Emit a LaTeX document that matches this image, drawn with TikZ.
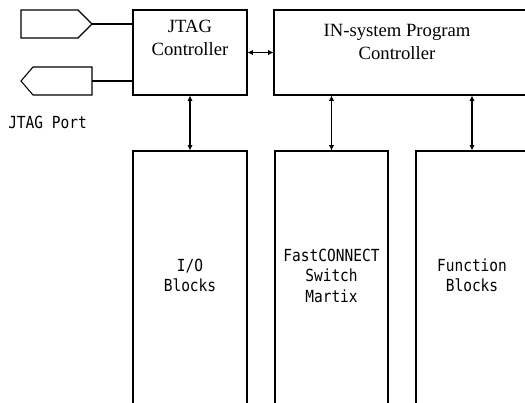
\documentclass[tikz,border=0pt]{standalone}
\usepackage{fontspec}
\setmainfont{Liberation Serif}
\newfontfamily\gothic[FakeStretch=0.87]{DejaVu Sans Mono}
\usetikzlibrary{arrows.meta}
\begin{document}
\begin{tikzpicture}[x=0.75pt,y=-0.75pt,
  box/.style={draw,line width=0.8pt,inner sep=0pt,minimum width=#1},
  lbl/.style={font=\fontsize{14}{16}\selectfont,anchor=base,inner sep=0pt},
  glbl/.style={font=\gothic\fontsize{12.5}{15.3}\selectfont,anchor=base,inner sep=0pt,align=center},
  link/.style={line width=0.8pt},
  bi/.style={line width=0.8pt,{Latex[length=4pt,width=4pt]}-{Latex[length=4pt,width=4pt]}}]
\useasboundingbox (0,0) rectangle (525,403);
\clip (0,0) rectangle (525,403);
% controllers
\node[box=85.5pt,minimum height=63.75pt] (jtag) at (190,52.5) {};
\node[box=199.5pt,minimum height=63.75pt] (isp) at (407,52.5) {};
\node[lbl] (jtagt1) at (190,32.7) {JTAG};
\node[lbl] (jtagt2) at (190,55.5) {Controller};
\node[lbl] (ispt1) at (397,36.7) {IN-system Program};
\node[lbl] (ispt2) at (397,59.5) {Controller};
% lower blocks
\node[box=85.5pt,minimum height=201pt] (io) at (190,285) {};
\node[box=84.75pt,minimum height=201pt] (fc) at (331.5,285) {};
\node[box=84pt,minimum height=201pt] (fn) at (472,285) {};
\node[glbl] (iot) at (190,291.7) {I/O\\Blocks};
\node[glbl] (fct) at (331.5,302) {FastCONNECT\\Switch\\Martix};
\node[glbl] (fnt) at (472,291.7) {Function\\Blocks};
% JTAG port shapes
\draw[link] (21,10) -- (78,10) -- (92,24) coordinate (tin) -- (78,38) -- (21,38) -- cycle;
\draw[link] (21,81) coordinate (tout) -- (33,67) -- (92,67) -- (92,95) -- (33,95) -- cycle;
\coordinate (toutr) at (92,81);
\node[glbl,anchor=base west] (port) at (8,128) {JTAG Port};
\draw[link] (tin) -- (tin -| jtag.west);
\draw[link] (toutr) -- (toutr -| jtag.west);
% arrows
\draw[bi] (jtag.east) -- (isp.west);
\draw[bi] (jtag.south) -- (io.north);
\draw[bi] (fc.north |- isp.south) -- (fc.north);
\draw[bi] (fn.north |- isp.south) -- (fn.north);
\end{tikzpicture}
\end{document}
